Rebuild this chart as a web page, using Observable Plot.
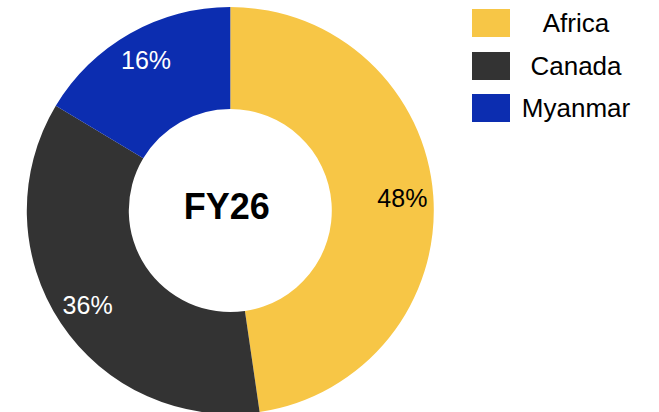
<!DOCTYPE html>
<html>
<head>
<meta charset="utf-8">
<script src="https://cdn.jsdelivr.net/npm/d3@7"></script>
<script src="https://cdn.jsdelivr.net/npm/@observablehq/plot@0.6"></script>
<style>
  html, body { margin: 0; padding: 0; background: #fff; }
  body { font-family: "Liberation Sans", Arial, sans-serif; }
  #wrap { position: relative; width: 659px; height: 412px; overflow: hidden; }
  #chart { position: absolute; left: 0; top: 0; }
  #legend { position: absolute; left: 472px; top: 9px; }
  .item { display: flex; align-items: center; height: 28px; margin-bottom: 14.5px; }
  .sw { width: 38px; height: 28px; flex: none; }
  .lab { width: 132px; text-align: center; font-size: 26px; color: #000; line-height: 28px; }
</style>
</head>
<body>
<div id="wrap">
  <div id="chart"></div>
  <div id="legend"></div>
</div>
<script>
// ---- data ----
const categories = ["Africa", "Canada", "Myanmar"];
const shares = [47.7, 35.9, 16.4];
const centerLabel = "FY26";

// ---- styles ----
const colors = ["#F7C646", "#333333", "#0C2DB0"];
const darkLabelCategories = ["Africa"];

// ---- layout (data units, 1 unit = 1px) ----
const R_OUT = 203.5, R_IN = 101.5, R_LABEL = 172;

const rows = categories.map((name, i) => ({ name, share: shares[i] }));
const color = Plot.scale({ color: { type: "ordinal", domain: categories, range: colors } });

const arcs = d3.pie().sort(null).value(d => d.share)(rows);
arcs.forEach(a => {
  const m = (a.startAngle + a.endAngle) / 2;
  a.data.lx = R_LABEL * Math.sin(m);
  a.data.ly = -R_LABEL * Math.cos(m);
});

function arcsMark(index, scales) {
  const cx = scales.x(0), cy = scales.y(0);
  const ro = scales.x(R_OUT) - cx, ri = scales.x(R_IN) - cx;
  const arc = d3.arc().innerRadius(ri).outerRadius(ro);
  const g = d3.create("svg:g").attr("transform", `translate(${cx},${cy})`);
  g.selectAll("path").data(arcs).join("path")
    .attr("d", arc)
    .attr("fill", d => color.apply(d.data.name));
  return g.node();
}

const fmt = d => Math.round(d.share) + "%";

const chart = Plot.plot({
  width: 659,
  height: 412,
  marginLeft: 0, marginRight: 200, marginTop: 0, marginBottom: 0,
  x: { domain: [-230.3, 228.7], axis: null },
  y: { domain: [-210.5, 201.5], range: [0, 412], axis: null },
  style: { fontFamily: "'Liberation Sans', Arial, sans-serif", background: "#fff" },
  marks: [
    arcsMark,
    Plot.text(rows.filter(d => darkLabelCategories.includes(d.name)), {
      x: "lx", y: "ly", text: fmt, fill: "#000", fontSize: 25
    }),
    Plot.text(rows.filter(d => !darkLabelCategories.includes(d.name)), {
      x: "lx", y: "ly", text: fmt, fill: "#fff", fontSize: 25
    }),
    Plot.text([centerLabel], {
      x: () => 0, y: () => 0, dx: -4, dy: -4, text: d => d, fill: "#000", fontSize: 36, fontWeight: "bold"
    })
  ]
});
document.getElementById("chart").appendChild(chart);

const legend = d3.select("#legend");
categories.forEach(name => {
  const it = legend.append("div").attr("class", "item");
  it.append("div").attr("class", "sw").style("background", color.apply(name));
  it.append("div").attr("class", "lab").text(name);
});
</script>
</body>
</html>
